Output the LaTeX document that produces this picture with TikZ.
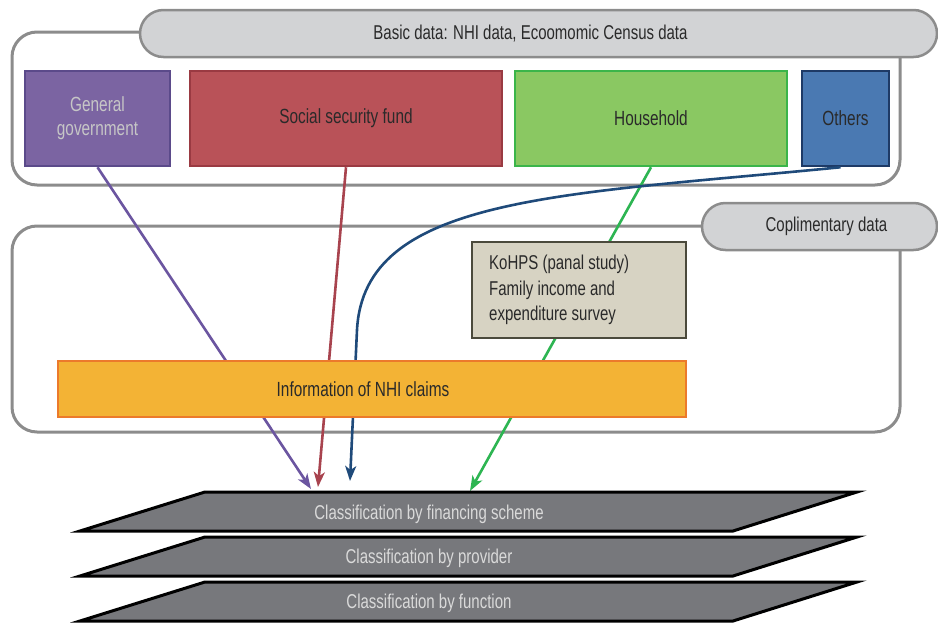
\documentclass[tikz,border=0pt]{standalone}
\usepackage{fontspec}
\setmainfont{Liberation Sans}[FakeStretch=0.75]
\usetikzlibrary{arrows.meta,shapes.misc}
\definecolor{contgray}{HTML}{8C8C8C}
\definecolor{pillfill}{HTML}{D2D3D5}
\definecolor{ggfill}{HTML}{7B64A2}
\definecolor{ggdraw}{HTML}{5B4A8A}
\definecolor{ssffill}{HTML}{B95258}
\definecolor{ssfdraw}{HTML}{9A3A42}
\definecolor{hhfill}{HTML}{8AC862}
\definecolor{hhdraw}{HTML}{3BB54A}
\definecolor{othfill}{HTML}{4A79B2}
\definecolor{othdraw}{HTML}{1E3A66}
\definecolor{kofill}{HTML}{D7D3C3}
\definecolor{kodraw}{HTML}{4B4A3C}
\definecolor{nhifill}{HTML}{F3B335}
\definecolor{nhidraw}{HTML}{EC7A2B}
\definecolor{layfill}{HTML}{77787C}
\definecolor{laytext}{HTML}{DADADA}
\definecolor{gglight}{HTML}{C6C6C6}
\definecolor{txtdark}{HTML}{2A2A2A}
\definecolor{purpline}{HTML}{6B55A0}
\definecolor{redline}{HTML}{A8434E}
\definecolor{blueline}{HTML}{1F4A7A}
\definecolor{greenline}{HTML}{2DB552}
\tikzset{
  container/.style={draw=contgray, line width=3pt, fill=white, rounded corners=25pt},
  pill/.style={rounded rectangle, draw=contgray, line width=2.5pt, fill=pillfill, text=txtdark, font=\fontsize{20}{22}\selectfont, inner sep=0pt},
  srcbox/.style={rectangle, line width=2.5pt, inner sep=0pt, font=\fontsize{20.5}{24}\selectfont, align=center, text=txtdark},
  conn/.style={line width=2.6pt, -{Stealth[length=15pt,width=11pt,inset=4pt]}},
  layer/.style={draw=black, line width=3pt, fill=layfill, line join=miter},
  laylabel/.style={text=laytext, font=\fontsize{20}{22}\selectfont, inner sep=0pt}
}
\begin{document}
\begin{tikzpicture}[x=1pt,y=-1pt]
\useasboundingbox (0,0) rectangle (938,624);
% containers
\draw[container] (12,32) rectangle (900,185);
\draw[container] (12,226) rectangle (900,432);
\node[pill, minimum width=797, minimum height=47] (basic) at (538.5,33.5) {\hspace*{-16pt}Basic data: NHI data, Ecoomomic Census data};
\node[pill, minimum width=235, minimum height=47] (compl) at (819.5,226.5) {\hspace*{14pt}Coplimentary data};
% source boxes
\node[srcbox, draw=ggdraw, fill=ggfill, text=gglight, minimum width=145, minimum height=95] (gg) at (97.5,118.5) {General\\government};
\node[srcbox, draw=ssfdraw, fill=ssffill, minimum width=312, minimum height=95] (ssf) at (346,118.5) {Social security fund};
\node[srcbox, draw=hhdraw, fill=hhfill, minimum width=272, minimum height=95] (hh) at (651,118.5) {Household};
\node[srcbox, draw=othdraw, fill=othfill, minimum width=87, minimum height=95] (oth) at (845.5,118.5) {Others};
% arrow end points
\coordinate (pe) at (311,489);
\coordinate (re) at (318,487);
\coordinate (be) at (350,481);
\coordinate (ge) at (470,491);
% connectors
\draw[conn, purpline] (gg.south) -- (pe);
\draw[conn, redline] (ssf.south) -- (re);
\draw[conn, greenline] (hh.south) -- (ge);
\draw[conn, blueline] ([xshift=-5pt]oth.south) .. controls (560,195) and (364,196) .. (357,330) -- (be);
% middle boxes
\node[srcbox, draw=kodraw, fill=kofill, minimum width=214, minimum height=96] (ko) at (579,290) {};
\node[anchor=west, text=txtdark, align=left, font=\fontsize{20}{25.5}\selectfont, inner sep=0pt] (kotext) at (489,290) {KoHPS (panal study)\\Family income and\\expenditure survey};
\node[srcbox, draw=nhidraw, fill=nhifill, minimum width=628, minimum height=56] (nhi) at (372,389) {\hspace*{-18pt}Information of NHI claims};
% layers
\draw[layer] (205,492) -- (857,492) -- (733,531) -- (80,531) -- cycle;
\draw[layer] (205,537) -- (857,537) -- (733,576) -- (80,576) -- cycle;
\draw[layer] (205,582) -- (857,582) -- (733,621) -- (80,621) -- cycle;
\node[laylabel] (l1) at (429,514) {Classification by financing scheme};
\node[laylabel] (l2) at (429,558) {Classification by provider};
\node[laylabel] (l3) at (429,603) {Classification by function};
\end{tikzpicture}
\end{document}
